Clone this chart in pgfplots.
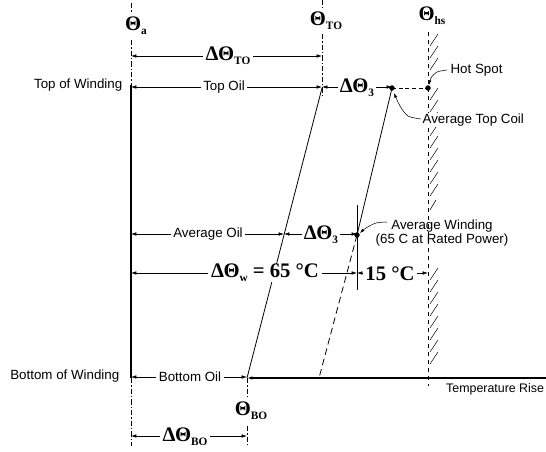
\documentclass[border=0pt]{standalone}
\usepackage{pgfplots}
\pgfplotsset{compat=1.18}
\usetikzlibrary{arrows.meta}
\usepackage{fontspec}
\setmainfont{Liberation Sans}
\newfontfamily\serifb{Liberation Serif}
\newcommand{\Th}[1]{{\serifb\bfseries\fontsize{15.5}{15.5}\selectfont Θ\raisebox{-0.45ex}{\fontsize{8.5}{8.5}\selectfont #1}}}
\newcommand{\DTh}[1]{{\serifb\bfseries\fontsize{15.5}{15.5}\selectfont ΔΘ\raisebox{-0.45ex}{\fontsize{8.5}{8.5}\selectfont #1}}}
\tikzset{
  dim/.style={thin, {Latex[length=4pt,width=2.6pt]}-{Latex[length=4pt,width=2.6pt]}},
  lab/.style={font=\fontsize{10}{11}\selectfont},
}
\begin{document}
\begin{tikzpicture}
\begin{axis}[
  scale only axis, width=409.5pt, height=338.25pt,
  xmin=0, xmax=546, ymin=0, ymax=451, y dir=reverse,
  hide axis, clip=false,
  every axis plot/.append style={black},
]
% vertical reference lines
\addplot[thin, dash pattern=on 4pt off 1.5pt on 1pt off 1.5pt] coordinates {(131,3) (131,13)};
\addplot[thin, dash pattern=on 4pt off 1.5pt on 1pt off 1.5pt] coordinates {(131,40) (131,85)};
\addplot[line width=1.6pt] coordinates {(131,85) (131,378)};
\addplot[thin, dash pattern=on 4pt off 1.5pt on 1pt off 1.5pt] coordinates {(131,378) (131,446)};
\addplot[thin, dash pattern=on 4pt off 1.5pt on 1pt off 1.5pt] coordinates {(322,0) (322,8)};
\addplot[thin, dash pattern=on 4pt off 1.5pt on 1pt off 1.5pt] coordinates {(322,34) (322,95)};
\addplot[thin, dashed] coordinates {(428,32) (428,386)};
\addplot[thin, dash pattern=on 4pt off 1.5pt on 1pt off 1.5pt] coordinates {(247,378) (247,397)};
\addplot[thin, dash pattern=on 4pt off 1.5pt on 1pt off 1.5pt] coordinates {(247,426) (247,445)};
\addplot[thin] coordinates {(357,205) (357,290)};
% hatch marks right of hot spot line
\addplot[thin, unbounded coords=jump] coordinates {
(430,46)(438,34) (nan,nan)
(430,58)(438,46) (nan,nan)
(430,70)(438,58) (nan,nan)
(430,100)(438,88) (nan,nan)
(430,112)(438,100) (nan,nan)
(430,124)(438,112) (nan,nan)
(430,136)(438,124) (nan,nan)
(430,148)(438,136) (nan,nan)
(430,160)(438,148) (nan,nan)
(430,172)(438,160) (nan,nan)
(430,184)(438,172) (nan,nan)
(430,196)(438,184) (nan,nan)
(430,210)(436,200) (nan,nan)
(430,280)(438,268) (nan,nan)
(430,292)(438,280) (nan,nan)
(430,304)(438,292) (nan,nan)
(430,316)(438,304) (nan,nan)
(430,328)(438,316) (nan,nan)
(430,340)(438,328) (nan,nan)
(430,352)(438,340) (nan,nan)
(430,364)(438,352)
};
% oil and winding gradient lines
\addplot[semithick] coordinates {(322,88) (247,378)};
\addplot[semithick] coordinates {(392,88) (357,235)};
\addplot[semithick, dash pattern=on 5pt off 3pt] coordinates {(357,235) (319,378)};
\addplot[semithick, dash pattern=on 3pt off 2pt] coordinates {(392,88) (428,88)};
% temperature rise axis
\addplot[thick, {Latex[length=4pt,width=2.6pt]}-] coordinates {(247,378) (546,378)};
% dimension arrows
\addplot[dim] coordinates {(131,56) (322,56)};
\addplot[dim] coordinates {(131,87) (322,87)};
\addplot[dim] coordinates {(322,87) (392,87)};
\addplot[dim] coordinates {(131,234) (284,234)};
\addplot[dim] coordinates {(284,234) (357,234)};
\addplot[dim] coordinates {(131,273) (357,273)};
\addplot[dim] coordinates {(357,273) (428,273)};
\addplot[dim] coordinates {(131,377) (247,377)};
\addplot[dim] coordinates {(131,436) (247,436)};
% points
\addplot[only marks, mark=*, mark size=1.8pt] coordinates {(392,88) (428,88) (357,235)};
% leader curves
\addplot[thin, smooth, -{Latex[length=3.5pt,width=2.4pt]}] coordinates {(447,70) (437,72) (431,78) (429,85)};
\addplot[thin, smooth, -{Latex[length=3.5pt,width=2.4pt]}] coordinates {(421,119) (408,116) (400,106) (394,93)};
\addplot[thin, smooth, -{Latex[length=3.5pt,width=2.4pt]}] coordinates {(387,222) (376,223) (366,228) (360,233)};
% labels
\node at (axis cs:136,26) {\Th{a}};
\node at (axis cs:326,21) {\Th{TO}};
\node at (axis cs:432,16) {\Th{hs}};
\node[fill=white, inner xsep=2pt, inner ysep=0pt] at (axis cs:228,56) {\DTh{TO}};
\node[lab, anchor=east] at (axis cs:127,85) {Top of Winding};
\node[lab, fill=white, inner xsep=2pt, inner ysep=0pt] at (axis cs:224,87) {Top Oil};
\node[fill=white, inner xsep=1.5pt, inner ysep=0pt] at (axis cs:357,88) {\DTh{3}};
\node[lab, anchor=west, fill=white, inner xsep=1pt, inner ysep=0.5pt] at (axis cs:449,70) {Hot Spot};
\node[lab, anchor=west, fill=white, inner xsep=1pt, inner ysep=0.5pt] at (axis cs:421,120) {Average Top Coil};
\node[lab, fill=white, inner xsep=2pt, inner ysep=0pt] at (axis cs:208,234) {Average Oil};
\node[fill=white, inner xsep=1.5pt, inner ysep=0pt] at (axis cs:321,235) {\DTh{3}};
\node[lab, align=center, inner sep=0pt] at (axis cs:442,233) {Average Winding\\(65 C at Rated Power)};
\node[fill=white, inner xsep=2pt, inner ysep=0pt] at (axis cs:265,273) {\DTh{w}{\serifb\bfseries\fontsize{15.5}{15.5}\selectfont\ = 65 °C}};
\node[fill=white, inner xsep=2pt, inner ysep=0pt] at (axis cs:390,274) {{\serifb\bfseries\fontsize{15.5}{15.5}\selectfont 15 °C}};
\node[lab, anchor=east] at (axis cs:124,376) {Bottom of Winding};
\node[lab, fill=white, inner xsep=2pt, inner ysep=0pt] at (axis cs:190,377) {Bottom Oil};
\node[font=\fontsize{9.3}{10}\selectfont, anchor=east, inner xsep=0.5pt] at (axis cs:545,389) {Temperature Rise};
\node at (axis cs:251,411) {\Th{BO}};
\node[fill=white, inner xsep=2pt, inner ysep=0pt] at (axis cs:185,437) {\DTh{BO}};
\end{axis}
\pgfresetboundingbox
\useasboundingbox (current axis.south west) rectangle (current axis.north east);
\end{tikzpicture}
\end{document}
